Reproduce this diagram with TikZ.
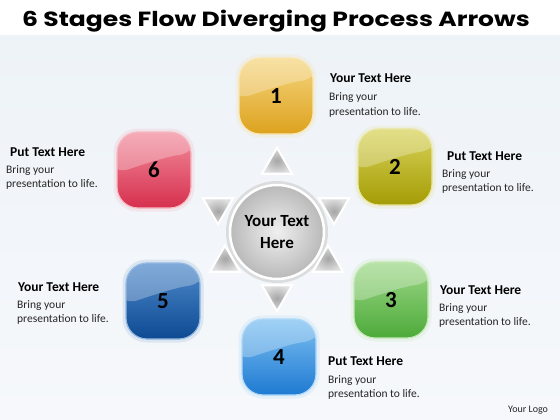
\documentclass[tikz,border=0pt]{standalone}
\usepackage{fontspec}
\setmainfont{Carlito}
\newfontfamily\titlefont{Poppins}
\usetikzlibrary{shapes.geometric,calc}
\definecolor{c1a}{HTML}{F5D680}\definecolor{c1b}{HTML}{DDA21E}
\definecolor{c2a}{HTML}{D8D35A}\definecolor{c2b}{HTML}{A49C05}
\definecolor{c3a}{HTML}{9ED887}\definecolor{c3b}{HTML}{4DAA3A}
\definecolor{c4a}{HTML}{7CC0F2}\definecolor{c4b}{HTML}{1F7AD2}
\definecolor{c5a}{HTML}{4E8ACB}\definecolor{c5b}{HTML}{0E4A92}
\definecolor{c6a}{HTML}{F28C9C}\definecolor{c6b}{HTML}{D6304E}
\definecolor{bgtop}{HTML}{EEF3F8}\definecolor{bgbot}{HTML}{F6F8FB}
\tikzset{
  stagebox/.style n args={2}{rounded corners=21pt, minimum width=74pt, minimum height=76pt,
    top color=#1, bottom color=#2, draw=#1!60!white, line width=1.2pt,
    font=\bfseries\fontsize{23}{25}\selectfont, text=black,
    path picture={\fill[white,opacity=0.28]
      ($(path picture bounding box.center)+(-45pt,-6pt)$)
      .. controls ($(path picture bounding box.center)+(-10pt,6pt)$)
      and ($(path picture bounding box.center)+(15pt,14pt)$)
      .. ($(path picture bounding box.center)+(45pt,17pt)$)
      -- ($(path picture bounding box.center)+(45pt,45pt)$)
      -- ($(path picture bounding box.center)+(-45pt,45pt)$) -- cycle;}},
  glow/.style={rounded corners=24pt, minimum width=81pt, minimum height=83pt, fill=#1, opacity=0.15},
  arrowtri/.style={regular polygon, regular polygon sides=3, minimum size=35pt, inner sep=0pt,
    inner color=gray!70, outer color=gray!25, draw=white, line width=2.2pt},
  trishadow/.style={regular polygon, regular polygon sides=3, minimum size=39pt, inner sep=0pt,
    fill=gray!30, opacity=0.6},
  head/.style={anchor=base west, inner sep=0pt, font=\bfseries\fontsize{13.5}{15}\selectfont},
  body/.style={anchor=base west, inner sep=0pt, font=\fontsize{11.5}{14}\selectfont, text=black!85},
}
\begin{document}
\begin{tikzpicture}[x=1pt,y=-1pt]
\useasboundingbox (0,0) rectangle (560,420);
\fill[white] (0,0) rectangle (560,420);
\shade[top color=bgtop, bottom color=bgbot] (0,36) rectangle (560,420);
\node[font=\titlefont\bfseries\fontsize{20.5}{24}\selectfont] (title) at (276,21) {\scalebox{1.22}[1]{6 Stages Flow Diverging Process Arrows}};
% glows
\node[glow=c1a] at (276,96) {};
\node[glow=c2a] at (395,167) {};
\node[glow=c3a] at (391,300) {};
\node[glow=c4a] at (279,357) {};
\node[glow=c5a] at (163,301) {};
\node[glow=c6a] at (154,170) {};
% boxes
\node[stagebox={c1a}{c1b}] (s1) at (276,96) {1};
\node[stagebox={c2a}{c2b}] (s2) at (395,167) {2};
\node[stagebox={c3a}{c3b}] (s3) at (391,300) {3};
\node[stagebox={c4a}{c4b}] (s4) at (279,357) {4};
\node[stagebox={c5a}{c5b}] (s5) at (163,301) {5};
\node[stagebox={c6a}{c6b}] (s6) at (154,170) {6};
% centre
\node[circle, minimum size=102pt, fill=gray!35, opacity=0.7] (cshadow) at (277,232) {};
\node[circle, minimum size=94pt, inner color=gray!12, outer color=gray!55, draw=white, line width=2.5pt,
  align=center, font=\bfseries\fontsize{17}{22}\selectfont] (c) at (277,232) {Your Text\\Here};
% triangles
\foreach \n/\x/\y/\r in {tu/277/165/0, tl/218/207/60, tr/334/207/-60, bl/225/263/120, br/328/263/240, bd/277/294/180}{
  \node[trishadow, rotate=\r] at (\x,\y) {};
  \node[arrowtri, rotate=\r] (\n) at (\x,\y) {};
}
% texts
\node[head] (h1) at (330,83) {Your Text Here};
\node[body] (b1a) at (329,101) {Bring your};
\node[body] (b1b) at (329,115) {presentation to life.};
\node[head] (h2) at (447,160) {Put Text Here};
\node[body] (b2a) at (442,177) {Bring your};
\node[body] (b2b) at (442,191) {presentation to life.};
\node[head] (h3) at (440,294) {Your Text Here};
\node[body] (b3a) at (439,311) {Bring your};
\node[body] (b3b) at (439,325) {presentation to life.};
\node[head] (h4) at (328,365) {Put Text Here};
\node[body] (b4a) at (328,383) {Bring your};
\node[body] (b4b) at (328,397) {presentation to life.};
\node[head] (h5) at (18,291) {Your Text Here};
\node[body] (b5a) at (17,308) {Bring your};
\node[body] (b5b) at (17,322) {presentation to life.};
\node[head] (h6) at (10,156) {Put Text Here};
\node[body] (b6a) at (6,173) {Bring your};
\node[body] (b6b) at (6,187) {presentation to life.};
\node[body, font=\fontsize{10}{12}\selectfont] (logo) at (508,412) {Your Logo};
\end{tikzpicture}
\end{document}
